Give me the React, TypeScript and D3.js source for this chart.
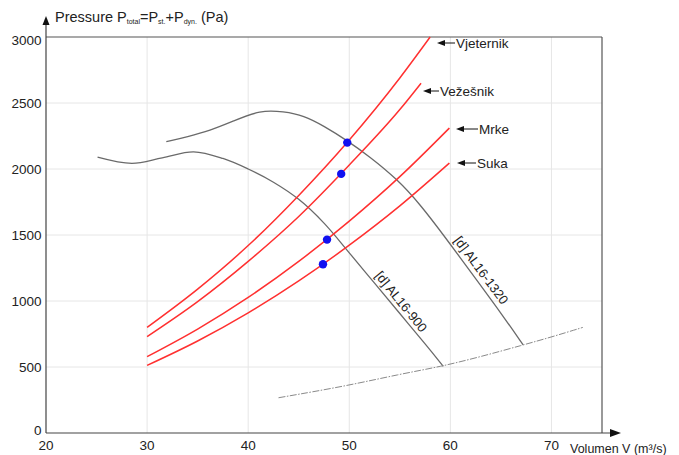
import React from "react";
import * as d3 from "d3";

// axis ticks
const xTicks = [20, 30, 40, 50, 60, 70];
const yTicks = [0, 500, 1000, 1500, 2000, 2500, 3000];

// system curves (m3/s, Pa)
const vjeternik: [number, number][] = [
  [30, 800], [35, 1090], [40, 1420], [45, 1800], [50, 2220], [55, 2690], [58, 3000],
];
const vezesnik: [number, number][] = [
  [30, 730], [35, 995], [40, 1300], [45, 1640], [50, 2030], [55, 2450], [57.1, 2650],
];
const mrke: [number, number][] = [
  [30, 578], [35, 787], [40, 1027], [45, 1300], [50, 1605], [55, 1942], [59.9, 2310],
];
const suka: [number, number][] = [
  [30, 512], [35, 697], [40, 910], [45, 1152], [50, 1423], [55, 1721], [59.9, 2045],
];

// fan curves
const al900: [number, number][] = [
  [25.1, 2090], [28.5, 2043], [31.5, 2085], [34.6, 2130], [37.5, 2080], [40, 2000],
  [42.5, 1900], [45, 1770], [47.5, 1590], [50, 1365], [52.5, 1135], [55, 905],
  [57.5, 675], [59.3, 505],
];
const al1320: [number, number][] = [
  [31.9, 2207], [34, 2245], [36.2, 2290], [38.5, 2362], [41.2, 2447], [43.5, 2435],
  [45.5, 2405], [47.5, 2325], [49.7, 2220], [52, 2095], [54.7, 1925], [57, 1735],
  [60, 1430], [62.5, 1170], [65, 910], [67.2, 667],
];
const limitCurve: [number, number][] = [
  [43, 267], [49.7, 356], [55, 446], [59, 502], [63, 578], [67.2, 667], [70, 727], [73.1, 800],
];

// operating points
const points: [number, number][] = [
  [49.8, 2200], [49.2, 1963], [47.8, 1465], [47.4, 1278],
];

const systemCurves = [
  { name: "Vjeternik", data: vjeternik },
  { name: "Vežešnik", data: vezesnik },
  { name: "Mrke", data: mrke },
  { name: "Suka", data: suka },
];

const W = 679;
const H = 455;
const font = "'Liberation Sans', Arial, sans-serif";

const App: React.FC = () => {
  const x = d3.scaleLinear().domain([20, 75]).range([46, 602]);
  const y = d3.scaleLinear().domain([0, 3000]).range([433, 37]);

  const line = d3
    .line<[number, number]>()
    .x((d) => x(d[0]))
    .y((d) => y(d[1]))
    .curve(d3.curveMonotoneX);
  const rom = d3
    .line<[number, number]>()
    .x((d) => x(d[0]))
    .y((d) => y(d[1]))
    .curve(d3.curveCatmullRom.alpha(0.5));
  const smooth = d3
    .line<[number, number]>()
    .x((d) => x(d[0]))
    .y((d) => y(d[1]))
    .curve(d3.curveBasis);

  // label anchors, arrow points left to the end of each red line
  const labelOffsets = [
    { ax: 437, tx: 456, ty: 43 },
    { ax: 423, tx: 440, ty: 91 },
    { ax: 456, tx: 479, ty: 129 },
    { ax: 457, tx: 477, ty: 163 },
  ];

  // y label nudges so that 0 and 3000 sit like the original
  const yLabelDy = (t: number) => (t === 0 ? 2 : t === 3000 ? 8 : 5);

  return (
    <svg
      width={W}
      height={H}
      style={{ position: "absolute", left: 0, top: 0, background: "#fff" }}
      fontFamily={font}
    >
      {/* grid */}
      {xTicks.slice(1).map((t) => (
        <line key={"gx" + t} x1={x(t)} x2={x(t)} y1={y(0)} y2={y(3000)} stroke="#e6e6e6" />
      ))}
      {yTicks.slice(1, -1).map((t) => (
        <line key={"gy" + t} x1={x(20)} x2={x(75)} y1={y(t)} y2={y(t)} stroke="#e6e6e6" />
      ))}

      {/* frame */}
      <line x1={x(20)} x2={x(75)} y1={y(3000)} y2={y(3000)} stroke="#555" strokeWidth={1.2} />
      <line x1={x(75)} x2={x(75)} y1={y(3000)} y2={y(0)} stroke="#555" strokeWidth={1.2} />

      {/* axes with arrows */}
      <line x1={x(20)} x2={x(20)} y1={y(0)} y2={22} stroke="#444" strokeWidth={1.2} />
      <path d={`M${x(20)},16 L${x(20) - 3.5},25 L${x(20) + 3.5},25 Z`} fill="#111" />
      <line x1={x(20)} x2={612} y1={y(0)} y2={y(0)} stroke="#444" strokeWidth={1.2} />
      <path d={`M621,${y(0)} L610,${y(0) - 4} L610,${y(0) + 4} Z`} fill="#111" />

      {/* y tick labels */}
      {yTicks.map((t) => (
        <text key={"ty" + t} x={41.5} y={y(t) + yLabelDy(t)} textAnchor="end" fontSize={13.5} fill="#222">
          {t}
        </text>
      ))}
      {/* x tick labels */}
      {xTicks.map((t) => (
        <text key={"tx" + t} x={x(t)} y={450} textAnchor="middle" fontSize={13.5} fill="#222">
          {t}
        </text>
      ))}
      <text x={570} y={453} fontSize={12.5} fill="#222">
        Volumen V (m³/s)
      </text>

      {/* title */}
      <text x={55} y={22} fontSize={14.5} fill="#222">
        Pressure{"  "}P
        <tspan fontSize={7} dy={2}>total</tspan>
        <tspan dy={-2}>=P</tspan>
        <tspan fontSize={7} dy={2}>st.</tspan>
        <tspan dy={-2}>+P</tspan>
        <tspan fontSize={7} dy={2}>dyn.</tspan>
        <tspan dy={-2}> (Pa)</tspan>
      </text>

      {/* fan curves */}
      <path d={rom(al900) || ""} fill="none" stroke="#6a6a6a" strokeWidth={1.3} />
      <path d={smooth(al1320) || ""} fill="none" stroke="#6a6a6a" strokeWidth={1.3} />
      <path
        d={smooth(limitCurve) || ""}
        fill="none"
        stroke="#8a8a8a"
        strokeWidth={1}
        strokeDasharray="7,1.5,1.5,1.5"
      />

      {/* system curves */}
      {systemCurves.map((c) => (
        <path key={c.name} d={line(c.data) || ""} fill="none" stroke="#ff3030" strokeWidth={1.5} />
      ))}

      {/* curve labels */}
      {systemCurves.map((c, i) => {
        const o = labelOffsets[i];
        return (
          <g key={"l" + c.name}>
            <line x1={o.ax + 6} x2={o.tx - 1} y1={o.ty} y2={o.ty} stroke="#111" strokeWidth={1} />
            <path d={`M${o.ax},${o.ty} L${o.ax + 8},${o.ty - 3} L${o.ax + 8},${o.ty + 3} Z`} fill="#111" />
            <text x={o.tx} y={o.ty + 5} fontSize={13.5} fill="#222">
              {c.name}
            </text>
          </g>
        );
      })}

      {/* fan labels, baseline running along the curve */}
      <text
        transform={`translate(${x(54.4)},${y(950)}) rotate(51)`}
        y={-5}
        textAnchor="middle"
        fontSize={13}
        fill="#222"
      >
        [d] AL16-900
      </text>
      <text
        transform={`translate(${x(62.3)},${y(1190)}) rotate(53.3)`}
        y={-5}
        textAnchor="middle"
        fontSize={13}
        fill="#222"
      >
        [d] AL16-1320
      </text>

      {/* operating points */}
      {points.map((p, i) => (
        <circle key={"p" + i} cx={x(p[0])} cy={y(p[1])} r={4.2} fill="#1010f0" />
      ))}
    </svg>
  );
};

export default App;
